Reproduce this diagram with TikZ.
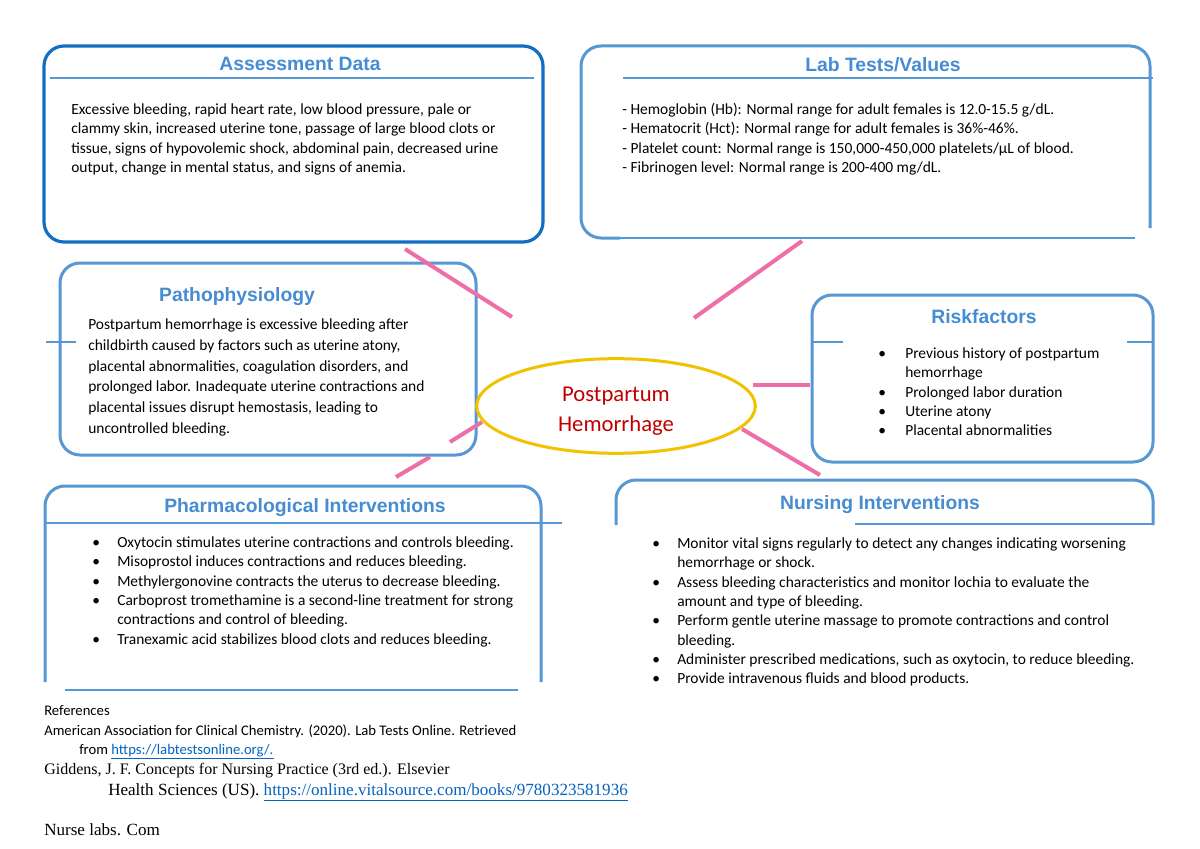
\documentclass[tikz,border=0pt]{standalone}
\usepackage{fontspec}
\setmainfont{Carlito}
\newfontfamily\arialf{Liberation Sans}
\newfontfamily\timesf{Liberation Serif}
\usetikzlibrary{shapes.geometric}
\definecolor{darkblue}{RGB}{16,110,196}
\definecolor{boxblue}{RGB}{86,152,212}
\definecolor{titleblue}{RGB}{70,140,210}
\definecolor{pinkline}{RGB}{238,110,168}
\definecolor{ellyellow}{RGB}{242,194,0}
\definecolor{ppred}{RGB}{192,0,0}
\definecolor{linkblue}{RGB}{5,99,193}
\newcommand\bodyfont{\fontsize{11.6}{14.5}\selectfont}
\newcommand\bitem[1]{\makebox[#1][l]{\textbullet}}
\begin{document}
\begin{tikzpicture}[x=0.75pt,y=-0.75pt,
  boxline/.style={draw=boxblue, line width=2.25pt, rounded corners=15pt},
  thinline/.style={draw=boxblue, line width=1pt},
  underl/.style={draw=boxblue, line width=1.7pt},
  titletext/.style={font=\arialf\bfseries\fontsize{14.5}{17}\selectfont, text=titleblue, anchor=base, inner sep=0},
  body/.style={anchor=base west, inner sep=0, font=\bodyfont},
  refbody/.style={anchor=base west, inner sep=0, font=\fontsize{11}{13}\selectfont},
  refserif/.style={anchor=base west, inner sep=0, font=\timesf\fontsize{12.8}{15}\selectfont},
  pink/.style={draw=pinkline, line width=3pt}]
\useasboundingbox (0,0) rectangle (1200,849);
\fill[white] (0,0) rectangle (1200,849);

% Assessment Data
\draw[draw=darkblue, line width=2.4pt, rounded corners=15pt] (44,46) rectangle (543,242);
\draw[underl] (50,78) -- (534,78);
\node[titletext] (t1) at (300,70) {Assessment Data};
\node[body] (assesstxt) at (71,114.5) {\parbox[t]{480pt}{Excessive bleeding, rapid heart rate, low blood pressure, pale or\\
clammy skin, increased uterine tone, passage of large blood clots or\\
tissue, signs of hypovolemic shock, abdominal pain, decreased urine\\
output, change in mental status, and signs of anemia.}};

% Lab Tests
\draw[boxline] (1150,228) -- (1150,46) -- (581,46) -- (581,238) -- (620,238);
\draw[thinline] (615,238) -- (1135,238);
\draw[underl] (623,78) -- (1153,78);
\node[titletext] (t2) at (883,72) {Lab Tests/Values};
\node[body] (labtxt) at (622,114.5) {\parbox[t]{480pt}{- Hemoglobin (Hb): Normal range for adult females is 12.0-15.5 g/dL.\\
- Hematocrit (Hct): Normal range for adult females is 36\%-46\%.\\
- Platelet count: Normal range is 150,000-450,000 platelets/µL of blood.\\
- Fibrinogen level: Normal range is 200-400 mg/dL.}};

% Pathophysiology
\draw[boxline] (60,263) rectangle (476,455);
\draw[underl] (46,342) -- (76,342);
\node[titletext] (t3) at (237,301) {Pathophysiology};
\node[body, font=\fontsize{11.6}{15.6}\selectfont] (pathotxt) at (88,329.5) {\parbox[t]{400pt}{Postpartum hemorrhage is excessive bleeding after\\
childbirth caused by factors such as uterine atony,\\
placental abnormalities, coagulation disorders, and\\
prolonged labor. Inadequate uterine contractions and\\
placental issues disrupt hemostasis, leading to\\
uncontrolled bleeding.}};

% Riskfactors
\draw[boxline] (812,295) rectangle (1153,462);
\draw[underl] (812,342) -- (843,342);
\draw[underl] (1127,342) -- (1153,342);
\node[titletext] (t4) at (984,323) {Riskfactors};
\node[body] (risktxt) at (878,358.5) {\parbox[t]{300pt}{\bitem{20.25pt}Previous history of postpartum\\
\hspace*{20.25pt}hemorrhage\\
\bitem{20.25pt}Prolonged labor duration\\
\bitem{20.25pt}Uterine atony\\
\bitem{20.25pt}Placental abnormalities}};

% Pharmacological Interventions
\draw[boxline] (45,682) -- (45,486) -- (541,486) -- (541,682);
\draw[thinline] (65,690) -- (518,690);
\draw[underl] (45,523) -- (562,523);
\node[titletext] (t5) at (305,512) {Pharmacological Interventions};
\node[body] (pharmtxt) at (92,547.5) {\parbox[t]{480pt}{\bitem{18.75pt}Oxytocin stimulates uterine contractions and controls bleeding.\\
\bitem{18.75pt}Misoprostol induces contractions and reduces bleeding.\\
\bitem{18.75pt}Methylergonovine contracts the uterus to decrease bleeding.\\
\bitem{18.75pt}Carboprost tromethamine is a second-line treatment for strong\\
\hspace*{18.75pt}contractions and control of bleeding.\\
\bitem{18.75pt}Tranexamic acid stabilizes blood clots and reduces bleeding.}};

% Nursing Interventions
\draw[boxline] (616,525) -- (616,480) -- (1153,480) -- (1153,525);
\draw[underl] (855,524) -- (1153,524);
\node[titletext] (t6) at (880,509) {Nursing Interventions};
\node[body] (nurstxt) at (652,548.5) {\parbox[t]{500pt}{\bitem{18.75pt}Monitor vital signs regularly to detect any changes indicating worsening\\
\hspace*{18.75pt}hemorrhage or shock.\\
\bitem{18.75pt}Assess bleeding characteristics and monitor lochia to evaluate the\\
\hspace*{18.75pt}amount and type of bleeding.\\
\bitem{18.75pt}Perform gentle uterine massage to promote contractions and control\\
\hspace*{18.75pt}bleeding.\\
\bitem{18.75pt}Administer prescribed medications, such as oxytocin, to reduce bleeding.\\
\bitem{18.75pt}Provide intravenous fluids and blood products.}};

% Center
\node[ellipse, draw=ellyellow, line width=2.25pt, minimum width=209pt, minimum height=71pt] (center) at (616,406) {};
\node[align=center, text=ppred, font=\fontsize{17}{22.5}\selectfont, inner sep=0] (centertxt) at (616,411) {Postpartum\\Hemorrhage};

% Pink connectors
\coordinate (a1) at (405,249); \coordinate (a2) at (512,317);
\coordinate (b1) at (694,318); \coordinate (b2) at (802,241);
\coordinate (c1) at (482,422); \coordinate (c2) at (450,442);
\coordinate (c3) at (430,457); \coordinate (c4) at (396,477);
\coordinate (d1) at (753,385); \coordinate (d2) at (810,385);
\coordinate (e1) at (742,429); \coordinate (e2) at (820,475);
\draw[pink] (a1) -- (a2);
\draw[pink] (b1) -- (b2);
\draw[pink] (c1) -- (c2);
\draw[pink] (c3) -- (c4);
\draw[pink] (d1) -- (d2);
\draw[pink] (e1) -- (e2);

% References
\node[refbody] (ref1) at (44,715) {References};
\node[refbody] (ref2) at (44,735) {American Association for Clinical Chemistry. (2020). Lab Tests Online. Retrieved};
\node[refbody] (ref3) at (79,754) {from \textcolor{linkblue}{\underline{https://labtestsonline.org/.}}};
\node[refserif, font=\timesf\fontsize{12}{15}\selectfont] (ref4) at (44,774) {Giddens, J. F. Concepts for Nursing Practice (3rd ed.). Elsevier};
\node[refserif] (ref5) at (108,795) {Health Sciences (US). \textcolor{linkblue}{\underline{https://online.vitalsource.com/books/9780323581936}}};
\node[refserif] (ref6) at (44,835) {Nurse labs. Com};
\end{tikzpicture}
\end{document}
